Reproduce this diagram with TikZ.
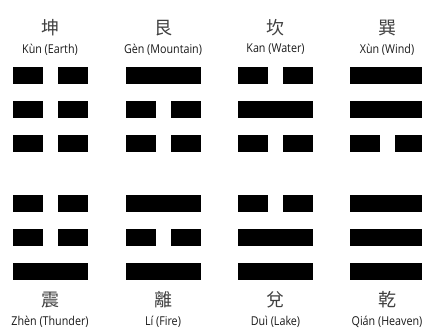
\documentclass[tikz,border=0pt]{standalone}
\usepackage{fontspec}
\setmainfont{Open Sans}[FakeStretch=0.88]
\newfontfamily\cjk{Noto Sans CJK SC}
\usetikzlibrary{positioning}

\begin{document}
\begin{tikzpicture}[
  x=1pt, y=-1pt,
  hanzi/.style={font=\cjk\fontsize{18}{18}\selectfont, text=black!75, inner sep=0pt},
  pinyin/.style={font=\fontsize{12.2}{12.2}\selectfont, text=black!90, inner sep=0pt}
]
\useasboundingbox (0,0) rectangle (422,329);

% one line: (left x, centre y, 1 = solid / 0 = broken)
\def\yao#1#2#3{%
  \ifnum#3=1
    \fill (#1,#2-8.5) rectangle (#1+75,#2+8.5);
  \else
    \fill (#1,#2-8.5) rectangle (#1+30,#2+8.5);
    \fill (#1+45,#2-8.5) rectangle (#1+75,#2+8.5);
  \fi
}
% trigram: (left x, top row y, lines top to bottom)
\def\gua#1#2#3#4#5{%
  \yao{#1}{#2}{#3}
  \yao{#1}{#2+34.3}{#4}
  \yao{#1}{#2+68.6}{#5}
}

% top row
\gua{12.5}{75}{0}{0}{0}
\gua{125.5}{75}{1}{0}{0}
\gua{238}{75}{0}{1}{0}
\gua{349.5}{75}{1}{1}{0}
\node[hanzi] (kun) at (50,28) {坤};
\node[hanzi] (gen) at (163,28) {艮};
\node[hanzi] (kan) at (275.5,28) {坎};
\node[hanzi] (xun) at (387,28) {巽};
\node[pinyin] (kunname) at (50,49.5) {Kùn (Earth)};
\node[pinyin] (genname) at (163,49.5) {Gèn (Mountain)};
\node[pinyin] (kanname) at (275.5,49.5) {Kan (Water)};
\node[pinyin] (xunname) at (387,49.5) {Xùn (Wind)};

% bottom row
\gua{12.5}{203.3}{0}{0}{1}
\gua{125.5}{203.3}{1}{0}{1}
\gua{238}{203.3}{0}{1}{1}
\gua{349.5}{203.3}{1}{1}{1}
\node[hanzi] (zhen) at (50,300) {震};
\node[hanzi] (li) at (163,300) {離};
\node[hanzi] (dui) at (275.5,300) {兌};
\node[hanzi] (qian) at (387,300) {乾};
\node[pinyin] (zhenname) at (50,322) {Zhèn (Thunder)};
\node[pinyin] (liname) at (163,322) {Lí (Fire)};
\node[pinyin] (duiname) at (275.5,322) {Duì (Lake)};
\node[pinyin] (qianname) at (387,322) {Qián (Heaven)};
\end{tikzpicture}
\end{document}
